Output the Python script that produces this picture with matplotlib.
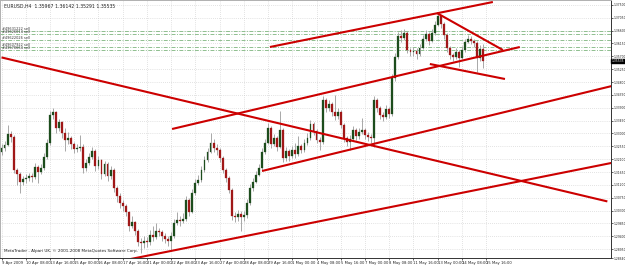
import numpy as np
import matplotlib
matplotlib.use("Agg")
import matplotlib.pyplot as plt
import matplotlib.transforms as mtransforms

# EURUSD H4 bars (open of bar 0, then closes / highs / lows)
first_open = 1.3235
closes = [
    1.3249, 1.3260, 1.3298, 1.3288, 1.3172, 1.3158, 1.3130, 1.3141, 1.3144, 1.3151,
    1.3148, 1.3183, 1.3165, 1.3180, 1.3218, 1.3267, 1.3365, 1.3375, 1.3319, 1.3340,
    1.3302, 1.3277, 1.3284, 1.3263, 1.3246, 1.3249, 1.3253, 1.3179, 1.3197, 1.3218,
    1.3239, 1.3186, 1.3207, 1.3158, 1.3193, 1.3151, 1.3172, 1.3109, 1.3081, 1.3057,
    1.3046, 1.3025, 1.2976, 1.2990, 1.2959, 1.2920, 1.2917, 1.2922, 1.2919, 1.2945,
    1.2938, 1.2959, 1.2955, 1.2941, 1.2931, 1.2924, 1.2941, 1.2987, 1.2997, 1.2994,
    1.3001, 1.3067, 1.3025, 1.3092, 1.3127, 1.3137, 1.3172, 1.3207, 1.3235, 1.3267,
    1.3249, 1.3242, 1.3214, 1.3172, 1.3144, 1.3102, 1.3011, 1.3008, 1.3018, 1.3008,
    1.3015, 1.3057, 1.3109, 1.3130, 1.3155, 1.3179, 1.3235, 1.3267, 1.3319, 1.3263,
    1.3284, 1.3253, 1.3312, 1.3214, 1.3239, 1.3221, 1.3242, 1.3228, 1.3256, 1.3242,
    1.3267, 1.3284, 1.3333, 1.3309, 1.3277, 1.3270, 1.3417, 1.3389, 1.3403, 1.3375,
    1.3361, 1.3375, 1.3330, 1.3284, 1.3270, 1.3281, 1.3312, 1.3291, 1.3305, 1.3312,
    1.3295, 1.3288, 1.3284, 1.3417, 1.3389, 1.3365, 1.3358, 1.3386, 1.3368, 1.3494,
    1.3568, 1.3641, 1.3634, 1.3652, 1.3592, 1.3585, 1.3589, 1.3578, 1.3599, 1.3631,
    1.3648, 1.3624, 1.3652, 1.3680, 1.3711, 1.3683, 1.3645, 1.3599, 1.3575, 1.3568,
    1.3585, 1.3564, 1.3592, 1.3620, 1.3631, 1.3624, 1.3617, 1.3564, 1.35967, 1.35535,
]
highs = [
    1.3262, 1.3275, 1.3330, 1.3310, 1.3295, 1.3180, 1.3165, 1.3150, 1.3158, 1.3162,
    1.3160, 1.3195, 1.3190, 1.3192, 1.3232, 1.3280, 1.3378, 1.3390, 1.3380, 1.3352,
    1.3345, 1.3320, 1.3305, 1.3290, 1.3270, 1.3262, 1.3295, 1.3262, 1.3210, 1.3230,
    1.3252, 1.3245, 1.3220, 1.3212, 1.3205, 1.3200, 1.3185, 1.3178, 1.3115, 1.3090,
    1.3068, 1.3052, 1.3030, 1.3012, 1.2995, 1.2965, 1.2935, 1.2940, 1.2938, 1.2962,
    1.2975, 1.2985, 1.2970, 1.2962, 1.2950, 1.2940, 1.2955, 1.3000, 1.3025, 1.3010,
    1.3020, 1.3080, 1.3075, 1.3105, 1.3140, 1.3155, 1.3185, 1.3220, 1.3250, 1.3300,
    1.3280, 1.3262, 1.3250, 1.3222, 1.3180, 1.3150, 1.3108, 1.3025, 1.3032, 1.3030,
    1.3028, 1.3070, 1.3122, 1.3145, 1.3168, 1.3192, 1.3248, 1.3280, 1.3335, 1.3325,
    1.3298, 1.3292, 1.3380, 1.3320, 1.3252, 1.3245, 1.3255, 1.3265, 1.3290, 1.3262,
    1.3280, 1.3300, 1.3347, 1.3340, 1.3315, 1.3288, 1.3430, 1.3425, 1.3418, 1.3410,
    1.3435, 1.3390, 1.3382, 1.3338, 1.3290, 1.3295, 1.3325, 1.3318, 1.3318, 1.3355,
    1.3320, 1.3305, 1.3298, 1.3430, 1.3425, 1.3395, 1.3375, 1.3398, 1.3392, 1.3508,
    1.3582, 1.3655, 1.3662, 1.3665, 1.3658, 1.3600, 1.3602, 1.3598, 1.3612, 1.3645,
    1.3662, 1.3655, 1.3665, 1.3694, 1.3722, 1.3715, 1.3690, 1.3650, 1.3605, 1.3582,
    1.3598, 1.3592, 1.3605, 1.3632, 1.3645, 1.3640, 1.3632, 1.3622, 1.3610, 1.36142,
]
lows = [
    1.3225, 1.3238, 1.3255, 1.3270, 1.3160, 1.3120, 1.3090, 1.3118, 1.3125, 1.3135,
    1.3130, 1.3140, 1.3128, 1.3158, 1.3172, 1.3210, 1.3260, 1.3350, 1.3300, 1.3310,
    1.3285, 1.3240, 1.3262, 1.3245, 1.3232, 1.3235, 1.3238, 1.3160, 1.3168, 1.3190,
    1.3210, 1.3170, 1.3175, 1.3140, 1.3150, 1.3135, 1.3140, 1.3095, 1.3060, 1.3040,
    1.3030, 1.3010, 1.2960, 1.2968, 1.2945, 1.2905, 1.2880, 1.2900, 1.2902, 1.2910,
    1.2925, 1.2930, 1.2940, 1.2925, 1.2915, 1.2905, 1.2890, 1.2935, 1.2980, 1.2975,
    1.2985, 1.2995, 1.3010, 1.3020, 1.3085, 1.3118, 1.3130, 1.3165, 1.3200, 1.3230,
    1.3235, 1.3225, 1.3200, 1.3160, 1.3130, 1.3090, 1.2998, 1.2990, 1.2995, 1.2960,
    1.2995, 1.3005, 1.3050, 1.3100, 1.3125, 1.3150, 1.3170, 1.3228, 1.3262, 1.3250,
    1.3255, 1.3240, 1.3248, 1.3200, 1.3205, 1.3205, 1.3215, 1.3215, 1.3222, 1.3230,
    1.3235, 1.3260, 1.3278, 1.3295, 1.3265, 1.3242, 1.3262, 1.3375, 1.3380, 1.3362,
    1.3348, 1.3352, 1.3318, 1.3270, 1.3255, 1.3242, 1.3275, 1.3278, 1.3282, 1.3298,
    1.3282, 1.3275, 1.3268, 1.3252, 1.3375, 1.3352, 1.3342, 1.3350, 1.3355, 1.3360,
    1.3485, 1.3560, 1.3620, 1.3628, 1.3580, 1.3570, 1.3572, 1.3560, 1.3570, 1.3595,
    1.3625, 1.3610, 1.3620, 1.3645, 1.3675, 1.3670, 1.3632, 1.3585, 1.3560, 1.3552,
    1.3560, 1.3532, 1.3560, 1.3585, 1.3615, 1.3612, 1.3602, 1.3515, 1.3555, 1.35291,
]
opens = [first_open] + closes[:-1]

date_labels = [
    "9 Apr 2009", "10 Apr 08:00", "13 Apr 16:00", "15 Apr 00:00", "16 Apr 08:00",
    "17 Apr 16:00", "21 Apr 00:00", "22 Apr 08:00", "23 Apr 16:00", "27 Apr 00:00",
    "28 Apr 08:00", "29 Apr 16:00", "1 May 00:00", "4 May 08:00", "5 May 16:00",
    "7 May 00:00", "8 May 08:00", "11 May 16:00", "13 May 00:00", "14 May 08:00",
    "15 May 16:00",
]
bars_per_label = 8

# trend lines: (bar, price) -> (bar, price)
trend_lines = [
    ((0, 1.3566), (200, 1.3062)),
    ((41, 1.2857), (201.5, 1.3197)),
    ((86, 1.31685), (201.5, 1.3466)),
    ((56.3, 1.33155), (171.1, 1.36025)),
    ((88.6, 1.36025), (162.2, 1.3760)),
    ((143.7, 1.37215), (165.5, 1.3592)),
    ((141.4, 1.3543), (166.2, 1.34905)),
]

# pending sell orders
order_prices = [1.36568, 1.36463, 1.3627, 1.36025, 1.3592]
order_labels = ["#49631222 sell", "#49626014 sell", "#49622026 sell",
                "#49607922 sell", "#49578664 sell"]

title_text = "EURUSD,H4  1.35967 1.36142 1.35291 1.35535"
footer_text = "MetaTrader - Alpari UK, \u00a9 2001-2008 MetaQuotes Software Corp."
y_top, y_bottom = 1.3767, 1.2864

fig = plt.figure(figsize=(6.25, 2.66), dpi=100)
fig.patch.set_facecolor("white")
ax = fig.add_axes([0.0, 8 / 266, 611 / 625, 258 / 266])
ax.set_facecolor("white")

n = len(closes)
idx = np.arange(n)
o = np.array(opens)
c = np.array(closes)
h = np.array(highs)
l = np.array(lows)
up = c >= o

# grid
yticks = np.arange(1.2895, 1.3751, 0.0045)
xticks = np.arange(0, len(date_labels) * bars_per_label, bars_per_label)
for yt in yticks:
    ax.axhline(yt, color="#c8c8c8", lw=0.5, ls=(0, (1, 2)), zorder=0)
for xt in xticks:
    ax.axvline(xt, color="#c8c8c8", lw=0.5, ls=(0, (1, 2)), zorder=0)

# order lines
for price, lab in zip(order_prices, order_labels):
    ax.axhline(price, color="#8fbf8f", lw=0.7, ls=(0, (4, 1.5, 1, 1.5)), zorder=1)
    ax.text(0.3, price + 0.0001, lab, fontsize=2.5, color="#333333",
            ha="left", va="bottom", zorder=6)

# candles
ax.vlines(idx, l, h, color="#a8a8a8", lw=0.7, zorder=2)
body_lo = np.minimum(o, c)
body_h = np.maximum(np.abs(c - o), 0.00012)
ax.bar(idx[up], body_h[up], bottom=body_lo[up], width=0.62,
       color="#1d4d1d", edgecolor="#1d4d1d", lw=0.2, zorder=3)
ax.bar(idx[~up], body_h[~up], bottom=body_lo[~up], width=0.62,
       color="#a01818", edgecolor="#a01818", lw=0.2, zorder=3)

# trend lines
for (x0, p0), (x1, p1) in trend_lines:
    ax.plot([x0, x1], [p0, p1], color="#cc0000", lw=1.5,
            solid_capstyle="butt", zorder=4)

ax.set_xlim(-0.5, 201.2)
ax.set_ylim(y_bottom, y_top)

ax.yaxis.tick_right()
ax.set_yticks(list(yticks) + [y_bottom])
ax.set_yticklabels([f"{v:.5f}" for v in yticks] + [f"{y_bottom:.5f}"])
ax.set_xticks(xticks)
ax.set_xticklabels(date_labels, ha="left")
ax.tick_params(axis="y", labelsize=2.2, length=1.2, width=0.5, pad=0.6,
               colors="#222222")
ax.tick_params(axis="x", labelsize=2.7, length=1.5, width=0.5, pad=0.8,
               colors="#222222")

for side in ("right", "bottom"):
    ax.spines[side].set_color("#333333")
    ax.spines[side].set_linewidth(0.7)
for side in ("left", "top"):
    ax.spines[side].set_color("#b0b0b0")
    ax.spines[side].set_linewidth(0.7)

# current price marker on the price scale
trans = mtransforms.blended_transform_factory(ax.transAxes, ax.transData)
ax.text(1.0015, closes[-1], f"{closes[-1]:.5f}", transform=trans, fontsize=2.2,
        color="white", ha="left", va="center", clip_on=False,
        bbox=dict(boxstyle="square,pad=0.15", fc="black", ec="black"))

ax.text(0.006, 0.985, title_text, transform=ax.transAxes, fontsize=3.3,
        color="#222222", ha="left", va="top")
ax.text(0.006, 0.02, footer_text, transform=ax.transAxes, fontsize=3.0,
        color="#222222", ha="left", va="bottom")

fig.savefig("out.png", dpi=100, facecolor="white")
